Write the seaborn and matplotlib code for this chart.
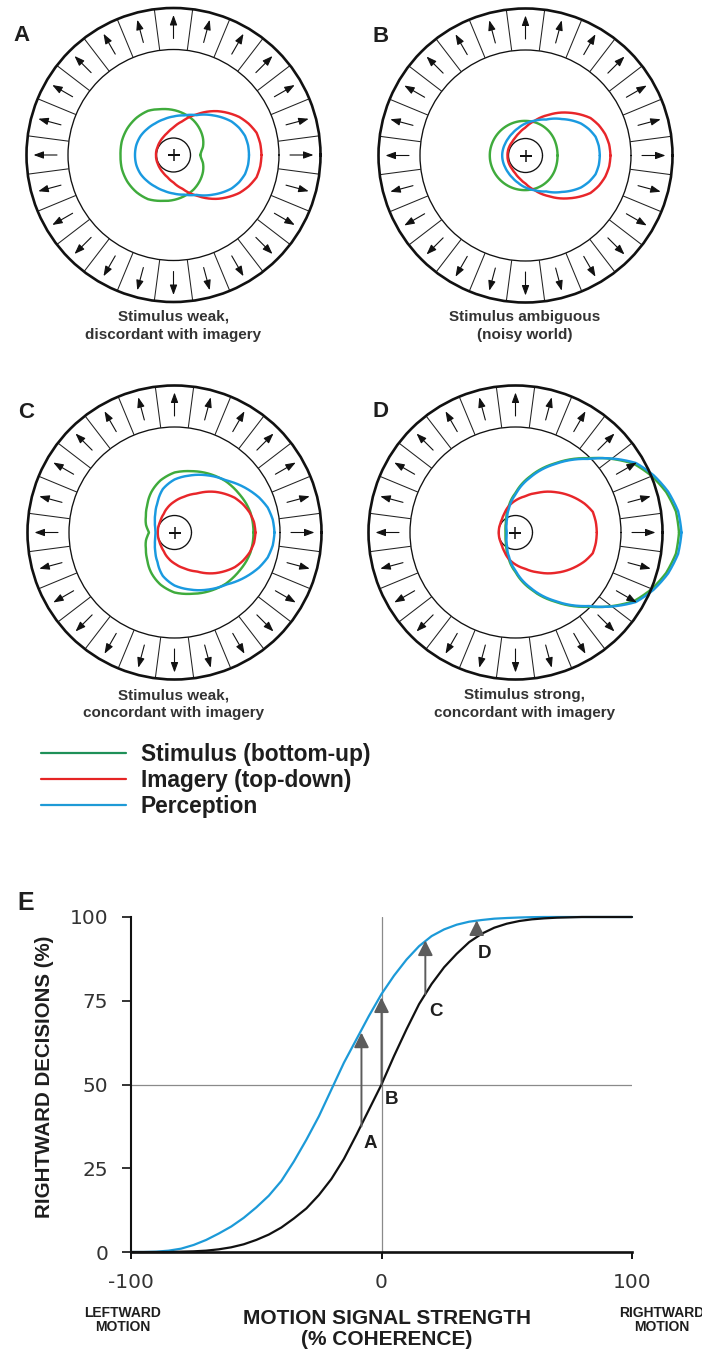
import numpy as np
import matplotlib
matplotlib.use("Agg")
import matplotlib.pyplot as plt
import seaborn as sns
from matplotlib.lines import Line2D

# ---------------- data ----------------
# polar tuning curves (radius, upper half; lower half mirrors it)
ANGLES_DEG = [0, 7.5, 15, 22.5, 30, 45, 60, 75, 90, 105, 120, 135, 150, 165, 172.5, 180]

A_STIMULUS = [26.7, 28.0, 30.5, 32.3, 34, 37, 40, 42.5, 45, 47.5, 51, 52.5, 53.3, 53.5, 53.2, 53]
A_IMAGERY = [88, 87.5, 86, 81.5, 76, 62, 47, 35, 27.5, 23, 20.5, 19, 18, 17.7, 17.6, 17.5]
A_PERCEPTION = [75.5, 75.2, 74, 71, 67, 56, 46, 41, 38.5, 37, 36.5, 37, 38, 38.5, 38.5, 38.5]

B_STIMULUS = [32, 32.1, 32.3, 32.6, 33, 33.7, 34.2, 34.5, 34.6, 34.8, 35, 35.2, 35.4, 35.6, 35.7, 35.7]
B_IMAGERY = [85, 84.4, 82.5, 79.3, 75, 60.6, 47, 36, 28, 23.5, 20.5, 19, 18.5, 18.2, 18.1, 18]
B_PERCEPTION = [74.3, 73.9, 72.5, 68.7, 64, 51.5, 41.5, 36, 32, 28.3, 25.8, 24.3, 23.5, 23.3, 23.3, 23.3]

C_STIMULUS = [79, 78.9, 78.5, 77.2, 75.5, 72.5, 68, 63.5, 60, 54, 46.5, 38.5, 33, 29.5, 27.3, 25.5]
C_IMAGERY = [81, 80.2, 77.7, 74, 69.5, 57.5, 45, 37, 31, 26, 21.5, 19, 17.5, 17, 16.8, 16.7]
C_PERCEPTION = [100, 99.1, 96.5, 91.5, 85.5, 73.5, 66, 59, 53, 45, 34, 27, 22.5, 20, 19.2, 19]

D_STIMULUS = [163.5, 161.8, 156, 147.5, 137, 105, 80, 58.5, 39.5, 26.5, 18, 13.5, 11.5, 10.3, 10.1, 10]
D_IMAGERY = [81.3, 81, 80, 75, 69, 57, 46, 37.5, 32, 27, 22, 19, 17.5, 17, 16.8, 16.7]
D_PERCEPTION = [166, 164, 158, 149.5, 139, 104, 79, 57, 38, 25, 16.5, 12.5, 10.5, 9.2, 8.9, 8.8]

PANEL_LETTERS = ["A", "B", "C", "D"]
CAPTIONS = [
    ["Stimulus weak,", "discordant with imagery"],
    ["Stimulus ambiguous", "(noisy world)"],
    ["Stimulus weak,", "concordant with imagery"],
    ["Stimulus strong,", "concordant with imagery"],
]
LEGEND_LABELS = ["Stimulus (bottom-up)", "Imagery (top-down)", "Perception"]

# psychometric curves (panel E)
COHERENCE = [-100, -95, -90, -85, -80, -75, -70, -65, -60, -55, -50, -45, -40, -35,
             -30, -25, -20, -15, -10, -5, 0, 5, 10, 15, 20, 25, 30, 35, 40, 45, 50,
             55, 60, 65, 70, 75, 80, 85, 90, 95, 100]
STIMULUS_ONLY = [0, 0, 0, 0, 0.1, 0.2, 0.4, 0.8, 1.4, 2.3, 3.6, 5.2, 7.3, 10.0,
                 13.0, 17.0, 21.8, 27.8, 35.0, 42.5, 50.0, 58.5, 66.5, 74.0, 80.0, 85.0,
                 89.0, 92.5, 95.0, 96.8, 98.0, 98.8, 99.3, 99.6, 99.8, 99.9, 100, 100,
                 100, 100, 100]
WITH_IMAGERY = [0, 0, 0.1, 0.4, 1.0, 2.1, 3.6, 5.5, 7.6, 10.2, 13.3, 16.8, 21.2, 27.0,
                33.5, 40.5, 48.5, 56.5, 63.5, 70.5, 77.0, 82.5, 87.3, 91.3, 94.3, 96.3,
                97.7, 98.6, 99.1, 99.5, 99.7, 99.85, 99.95, 100, 100, 100, 100, 100,
                100, 100, 100]
ARROW_NAMES = ["A", "B", "C", "D"]
ARROW_X = [-8, 0, 17.5, 38]
ARROW_FROM = [37.5, 50, 77, 94.5]
ARROW_TO = [65.5, 76, 93, 99]
X_TICKS = [-100, 0, 100]
X_TICK_LABELS = ["-100", "0", "100"]
Y_TICKS = [0, 25, 50, 75, 100]
Y_TICK_LABELS = ["0", "25", "50", "75", "100"]

# ---------------- style ----------------
sns.set_theme(style="white")
plt.rcParams["font.family"] = ["Liberation Sans", "DejaVu Sans"]

W, H = 702, 1353
fig = plt.figure(figsize=(W / 100, H / 100), dpi=100)
fig.patch.set_facecolor("white")


def fx(px):
    return px / W


def fy(py):
    return 1 - py / H


GREEN = "#3fab3c"
RED = "#e8262a"
BLUE = "#1a9ae0"
TXT = "#1e1e1e"
CAP = "#333333"

R_OUT = 147.0
R_IN = 105.5
R_SMALL = 17.0

PANEL_CENTERS = [(173.5, 155.0), (525.5, 155.5), (174.5, 532.5), (515.5, 532.5)]
LETTER_POS = [(13, 41), (372, 41.5), (18, 418), (372, 417)]
CAPTION_POS = [(173.5, 320.5, 338.5), (525, 320.7, 339.3), (174, 699.3, 717.3),
               (525, 699.3, 717.3)]
PANEL_DATA = [
    (A_STIMULUS, A_IMAGERY, A_PERCEPTION),
    (B_STIMULUS, B_IMAGERY, B_PERCEPTION),
    (C_STIMULUS, C_IMAGERY, C_PERCEPTION),
    (D_STIMULUS, D_IMAGERY, D_PERCEPTION),
]

full_deg = ANGLES_DEG + [360 - a for a in ANGLES_DEG[-2::-1]]
theta_full = np.deg2rad(full_deg)


def mirror(r):
    return list(r) + list(r[-2::-1])


for i, (cx, cy) in enumerate(PANEL_CENTERS):
    ax = fig.add_axes([fx(cx - R_OUT), fy(cy + R_OUT), 2 * R_OUT / W, 2 * R_OUT / H],
                      projection="polar")
    ax.set_facecolor("none")
    ax.set_xticks([])
    ax.set_yticks([R_SMALL, R_IN])
    ax.set_yticklabels([])
    ax.tick_params(length=0)
    ax.xaxis.grid(False)
    ax.yaxis.grid(True, color="#111111", lw=0.95)
    ax.spines["polar"].set_linewidth(1.9)
    ax.spines["polar"].set_color("#111111")

    div = np.deg2rad(np.arange(7.5, 360, 15))
    ax.vlines(div, R_IN, R_OUT, color="#222222", lw=0.75)
    for a in np.deg2rad(np.arange(0, 360, 15)):
        ax.annotate("", xy=(a, 140), xytext=(a, 116.5),
                    arrowprops=dict(arrowstyle="-|>,head_length=0.6,head_width=0.22",
                                    mutation_scale=10, color="#111111", lw=0.8,
                                    shrinkA=0, shrinkB=0))
    ax.plot([0], [0], marker="+", ms=8, mew=1.1, color="#111111")

    stim, imag, perc = PANEL_DATA[i]
    for r, col in ((stim, GREEN), (imag, RED), (perc, BLUE)):
        sns.lineplot(x=theta_full, y=mirror(r), sort=False, estimator=None, ax=ax,
                     color=col, lw=1.75, clip_on=False)
        # draw each segment in polar space (r varies with angle), as polar gridlines do
        ax.lines[-1].get_path()._interpolation_steps = 30
    ax.set_xlabel("")
    ax.set_ylabel("")
    ax.set_ylim(0, R_OUT)

    lx, ly = LETTER_POS[i]
    fig.text(fx(lx), fy(ly), PANEL_LETTERS[i], fontsize=16, fontweight="bold",
             color=TXT, ha="left", va="baseline")
    ccx, b1, b2 = CAPTION_POS[i]
    fig.text(fx(ccx), fy(b1), CAPTIONS[i][0], fontsize=11, fontweight="bold",
             color=CAP, ha="center", va="baseline")
    fig.text(fx(ccx), fy(b2), CAPTIONS[i][1], fontsize=11, fontweight="bold",
             color=CAP, ha="center", va="baseline")

# ---------------- legend ----------------
handles = [Line2D([], [], color=c, lw=1.6) for c in ("#1e9058", "#e52424", "#1e9ad6")]
fig.legend(handles, LEGEND_LABELS, loc="upper left",
           bbox_to_anchor=(fx(41), fy(743)), frameon=False, borderpad=0,
           borderaxespad=0, handlelength=3.74, handletextpad=0.65, labelspacing=0.14,
           prop=dict(family="Liberation Sans", weight="bold", size=16.4),
           labelcolor=TXT)

# ---------------- panel E ----------------
axE = fig.add_axes([fx(131), fy(1252), 501 / W, 335 / H])
axE.axhline(50, color="#8a8a8a", lw=0.9, zorder=1)
axE.axvline(0, color="#8a8a8a", lw=0.9, zorder=1)
sns.lineplot(x=COHERENCE, y=WITH_IMAGERY, ax=axE, color="#1c9ad8", lw=1.6,
             clip_on=False, zorder=2)
sns.lineplot(x=COHERENCE, y=STIMULUS_ONLY, ax=axE, color="#111111", lw=1.6,
             clip_on=False, zorder=3)
for nm, x0, y0, y1 in zip(ARROW_NAMES, ARROW_X, ARROW_FROM, ARROW_TO):
    axE.annotate("", xy=(x0, y1), xytext=(x0, y0),
                 arrowprops=dict(arrowstyle="-|>,head_length=0.9,head_width=0.45",
                                 mutation_scale=10, color="#5c5c5c", lw=1.4,
                                 shrinkA=0, shrinkB=0), zorder=4)
LABEL_OFFSETS = [(3.4, -5.0), (4.1, -4.4), (4.3, -5.3), (3.0, -5.3)]
for nm, x0, y0, (dx, dy) in zip(ARROW_NAMES, ARROW_X, ARROW_FROM, LABEL_OFFSETS):
    axE.text(x0 + dx, y0 + dy, nm, ha="center", va="center", fontsize=13.5,
             fontweight="bold", color=TXT, zorder=5)

axE.set_xlim(-100, 100)
axE.set_ylim(0, 100)
sns.despine(ax=axE)
axE.spines["left"].set_linewidth(1.5)
axE.spines["bottom"].set_linewidth(1.9)
axE.spines["left"].set_color("#111111")
axE.spines["bottom"].set_color("#111111")
axE.set_xticks(X_TICKS)
axE.set_xticklabels(X_TICK_LABELS)
axE.set_yticks(Y_TICKS)
axE.set_yticklabels(Y_TICK_LABELS)
axE.tick_params(axis="x", bottom=True, direction="out", length=5, width=1.4, pad=10,
                colors="#111111")
axE.tick_params(axis="y", left=True, direction="out", length=6.3, width=1.2, pad=10,
                colors="#111111")
for t in axE.get_xticklabels() + axE.get_yticklabels():
    t.set_fontfamily("DejaVu Sans")
    t.set_fontsize(14.5)
    t.set_color("#333333")
axE.grid(False)

axE.set_ylabel("RIGHTWARD DECISIONS (%)", fontsize=14.8, fontweight="bold", color=TXT,
               ha="center", va="center")
axE.yaxis.set_label_coords((44.5 - 131) / 501, (1252 - 1077) / 335)
axE.set_xlabel("MOTION SIGNAL STRENGTH\n(% COHERENCE)", fontsize=15, fontweight="bold",
               color=TXT, linespacing=1.15, va="top")
axE.xaxis.set_label_coords((387 - 131) / 501, (1252 - 1309) / 335)

fig.text(fx(123), fy(1320), "LEFTWARD\nMOTION", fontsize=10, fontweight="bold",
         color=TXT, ha="center", va="center", linespacing=1.05)
fig.text(fx(662), fy(1320), "RIGHTWARD\nMOTION", fontsize=10, fontweight="bold",
         color=TXT, ha="center", va="center", linespacing=1.05)
fig.text(fx(17), fy(910), "E", fontsize=18, fontweight="bold", color=TXT,
         ha="left", va="baseline")

fig.savefig("out.png", dpi=100, facecolor="white")
